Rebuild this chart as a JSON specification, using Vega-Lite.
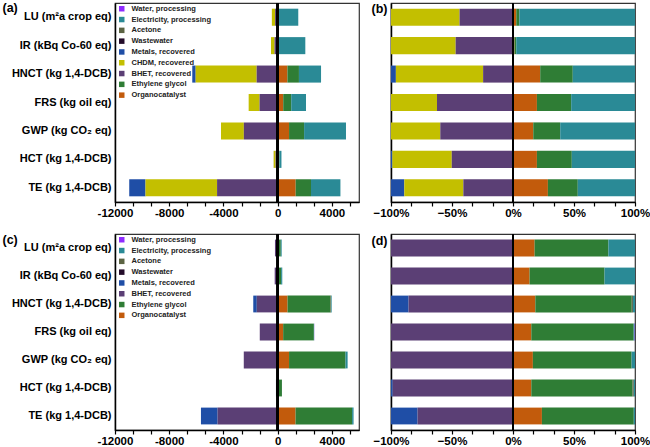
{
  "$schema": "https://vega.github.io/schema/vega-lite/v6.json",
  "padding": {"left": 1, "top": 0, "right": 0, "bottom": 2},
  "background": "white",
  "bounds": "flush",
  "columns": 2,
  "spacing": {"row": 32, "column": 32},
  "config": {
    "font": "Liberation Sans",
    "view": {"stroke": "#333", "strokeWidth": 1.2},
    "axis": {"grid": false, "labelColor": "black", "domainColor": "black", "tickColor": "black", "labelFlush": false, "labelOverlap": false},
    "legend": {
      "orient": "none", "legendX": 3, "legendY": 2, "title": null,
      "symbolType": "square", "symbolSize": 30, "symbolStrokeWidth": 0,
      "labelFontSize": 7.5, "labelFontWeight": "bold", "labelColor": "#222",
      "rowPadding": 1.8, "labelOffset": 6, "padding": 0
    }
  },
  "datasets": {
    "a": [
      {"category": "LU (m²a crop eq)", "source": "CHDM, recovered", "value": -240},
      {"category": "LU (m²a crop eq)", "source": "BHET, recovered", "value": -190},
      {"category": "LU (m²a crop eq)", "source": "Organocatalyst", "value": 40},
      {"category": "LU (m²a crop eq)", "source": "Ethylene glycol", "value": 40},
      {"category": "LU (m²a crop eq)", "source": "Electricity, processing", "value": 1440},
      {"category": "IR (kBq Co-60 eq)", "source": "CHDM, recovered", "value": -260},
      {"category": "IR (kBq Co-60 eq)", "source": "BHET, recovered", "value": -230},
      {"category": "IR (kBq Co-60 eq)", "source": "Organocatalyst", "value": 20},
      {"category": "IR (kBq Co-60 eq)", "source": "Ethylene glycol", "value": 30},
      {"category": "IR (kBq Co-60 eq)", "source": "Electricity, processing", "value": 1990},
      {"category": "HNCT (kg 1,4-DCB)", "source": "Metals, recovered", "value": -250},
      {"category": "HNCT (kg 1,4-DCB)", "source": "CHDM, recovered", "value": -4500},
      {"category": "HNCT (kg 1,4-DCB)", "source": "BHET, recovered", "value": -1550},
      {"category": "HNCT (kg 1,4-DCB)", "source": "Organocatalyst", "value": 720},
      {"category": "HNCT (kg 1,4-DCB)", "source": "Ethylene glycol", "value": 850},
      {"category": "HNCT (kg 1,4-DCB)", "source": "Electricity, processing", "value": 1630},
      {"category": "FRS (kg oil eq)", "source": "CHDM, recovered", "value": -805},
      {"category": "FRS (kg oil eq)", "source": "BHET, recovered", "value": -1335},
      {"category": "FRS (kg oil eq)", "source": "Organocatalyst", "value": 410},
      {"category": "FRS (kg oil eq)", "source": "Ethylene glycol", "value": 590},
      {"category": "FRS (kg oil eq)", "source": "Electricity, processing", "value": 1090},
      {"category": "GWP (kg CO₂ eq)", "source": "CHDM, recovered", "value": -1685},
      {"category": "GWP (kg CO₂ eq)", "source": "BHET, recovered", "value": -2495},
      {"category": "GWP (kg CO₂ eq)", "source": "Organocatalyst", "value": 840},
      {"category": "GWP (kg CO₂ eq)", "source": "Ethylene glycol", "value": 1110},
      {"category": "GWP (kg CO₂ eq)", "source": "Electricity, processing", "value": 3090},
      {"category": "HCT (kg 1,4-DCB)", "source": "Metals, recovered", "value": -5},
      {"category": "HCT (kg 1,4-DCB)", "source": "CHDM, recovered", "value": -145},
      {"category": "HCT (kg 1,4-DCB)", "source": "BHET, recovered", "value": -150},
      {"category": "HCT (kg 1,4-DCB)", "source": "Organocatalyst", "value": 53},
      {"category": "HCT (kg 1,4-DCB)", "source": "Ethylene glycol", "value": 81},
      {"category": "HCT (kg 1,4-DCB)", "source": "Electricity, processing", "value": 146},
      {"category": "TE (kg 1,4-DCB)", "source": "Metals, recovered", "value": -1200},
      {"category": "TE (kg 1,4-DCB)", "source": "CHDM, recovered", "value": -5280},
      {"category": "TE (kg 1,4-DCB)", "source": "BHET, recovered", "value": -4470},
      {"category": "TE (kg 1,4-DCB)", "source": "Organocatalyst", "value": 1330},
      {"category": "TE (kg 1,4-DCB)", "source": "Ethylene glycol", "value": 1130},
      {"category": "TE (kg 1,4-DCB)", "source": "Electricity, processing", "value": 2170}
    ],
    "b": [
      {"category": "LU (m²a crop eq)", "source": "CHDM, recovered", "value": -0.562},
      {"category": "LU (m²a crop eq)", "source": "BHET, recovered", "value": -0.438},
      {"category": "LU (m²a crop eq)", "source": "Organocatalyst", "value": 0.027},
      {"category": "LU (m²a crop eq)", "source": "Ethylene glycol", "value": 0.025},
      {"category": "LU (m²a crop eq)", "source": "Electricity, processing", "value": 0.948},
      {"category": "IR (kBq Co-60 eq)", "source": "CHDM, recovered", "value": -0.53},
      {"category": "IR (kBq Co-60 eq)", "source": "BHET, recovered", "value": -0.47},
      {"category": "IR (kBq Co-60 eq)", "source": "Organocatalyst", "value": 0.012},
      {"category": "IR (kBq Co-60 eq)", "source": "Ethylene glycol", "value": 0.015},
      {"category": "IR (kBq Co-60 eq)", "source": "Electricity, processing", "value": 0.973},
      {"category": "HNCT (kg 1,4-DCB)", "source": "Metals, recovered", "value": -0.04},
      {"category": "HNCT (kg 1,4-DCB)", "source": "CHDM, recovered", "value": -0.715},
      {"category": "HNCT (kg 1,4-DCB)", "source": "BHET, recovered", "value": -0.245},
      {"category": "HNCT (kg 1,4-DCB)", "source": "Organocatalyst", "value": 0.223},
      {"category": "HNCT (kg 1,4-DCB)", "source": "Ethylene glycol", "value": 0.267},
      {"category": "HNCT (kg 1,4-DCB)", "source": "Electricity, processing", "value": 0.51},
      {"category": "FRS (kg oil eq)", "source": "CHDM, recovered", "value": -0.377},
      {"category": "FRS (kg oil eq)", "source": "BHET, recovered", "value": -0.623},
      {"category": "FRS (kg oil eq)", "source": "Organocatalyst", "value": 0.196},
      {"category": "FRS (kg oil eq)", "source": "Ethylene glycol", "value": 0.281},
      {"category": "FRS (kg oil eq)", "source": "Electricity, processing", "value": 0.523},
      {"category": "GWP (kg CO₂ eq)", "source": "CHDM, recovered", "value": -0.404},
      {"category": "GWP (kg CO₂ eq)", "source": "BHET, recovered", "value": -0.596},
      {"category": "GWP (kg CO₂ eq)", "source": "Organocatalyst", "value": 0.166},
      {"category": "GWP (kg CO₂ eq)", "source": "Ethylene glycol", "value": 0.221},
      {"category": "GWP (kg CO₂ eq)", "source": "Electricity, processing", "value": 0.613},
      {"category": "HCT (kg 1,4-DCB)", "source": "Metals, recovered", "value": -0.011},
      {"category": "HCT (kg 1,4-DCB)", "source": "CHDM, recovered", "value": -0.487},
      {"category": "HCT (kg 1,4-DCB)", "source": "BHET, recovered", "value": -0.502},
      {"category": "HCT (kg 1,4-DCB)", "source": "Organocatalyst", "value": 0.196},
      {"category": "HCT (kg 1,4-DCB)", "source": "Ethylene glycol", "value": 0.286},
      {"category": "HCT (kg 1,4-DCB)", "source": "Electricity, processing", "value": 0.518},
      {"category": "TE (kg 1,4-DCB)", "source": "Metals, recovered", "value": -0.109},
      {"category": "TE (kg 1,4-DCB)", "source": "CHDM, recovered", "value": -0.484},
      {"category": "TE (kg 1,4-DCB)", "source": "BHET, recovered", "value": -0.407},
      {"category": "TE (kg 1,4-DCB)", "source": "Organocatalyst", "value": 0.286},
      {"category": "TE (kg 1,4-DCB)", "source": "Ethylene glycol", "value": 0.245},
      {"category": "TE (kg 1,4-DCB)", "source": "Electricity, processing", "value": 0.469}
    ],
    "c": [
      {"category": "LU (m²a crop eq)", "source": "BHET, recovered", "value": -200},
      {"category": "LU (m²a crop eq)", "source": "Organocatalyst", "value": 52},
      {"category": "LU (m²a crop eq)", "source": "Ethylene glycol", "value": 178},
      {"category": "LU (m²a crop eq)", "source": "Electricity, processing", "value": 65},
      {"category": "IR (kBq Co-60 eq)", "source": "BHET, recovered", "value": -220},
      {"category": "IR (kBq Co-60 eq)", "source": "Organocatalyst", "value": 46},
      {"category": "IR (kBq Co-60 eq)", "source": "Ethylene glycol", "value": 209},
      {"category": "IR (kBq Co-60 eq)", "source": "Electricity, processing", "value": 85},
      {"category": "HNCT (kg 1,4-DCB)", "source": "Metals, recovered", "value": -260},
      {"category": "HNCT (kg 1,4-DCB)", "source": "BHET, recovered", "value": -1540},
      {"category": "HNCT (kg 1,4-DCB)", "source": "Organocatalyst", "value": 730},
      {"category": "HNCT (kg 1,4-DCB)", "source": "Ethylene glycol", "value": 3170},
      {"category": "HNCT (kg 1,4-DCB)", "source": "Acetone", "value": 40},
      {"category": "HNCT (kg 1,4-DCB)", "source": "Electricity, processing", "value": 45},
      {"category": "FRS (kg oil eq)", "source": "BHET, recovered", "value": -1320},
      {"category": "FRS (kg oil eq)", "source": "Organocatalyst", "value": 405},
      {"category": "FRS (kg oil eq)", "source": "Ethylene glycol", "value": 2265},
      {"category": "FRS (kg oil eq)", "source": "Electricity, processing", "value": 20},
      {"category": "FRS (kg oil eq)", "source": "Water, processing", "value": 10},
      {"category": "GWP (kg CO₂ eq)", "source": "BHET, recovered", "value": -2500},
      {"category": "GWP (kg CO₂ eq)", "source": "Organocatalyst", "value": 840},
      {"category": "GWP (kg CO₂ eq)", "source": "Ethylene glycol", "value": 4165},
      {"category": "GWP (kg CO₂ eq)", "source": "Electricity, processing", "value": 155},
      {"category": "HCT (kg 1,4-DCB)", "source": "Metals, recovered", "value": -3},
      {"category": "HCT (kg 1,4-DCB)", "source": "BHET, recovered", "value": -125},
      {"category": "HCT (kg 1,4-DCB)", "source": "Organocatalyst", "value": 48},
      {"category": "HCT (kg 1,4-DCB)", "source": "Ethylene glycol", "value": 266},
      {"category": "HCT (kg 1,4-DCB)", "source": "Acetone", "value": 3},
      {"category": "HCT (kg 1,4-DCB)", "source": "Electricity, processing", "value": 3},
      {"category": "TE (kg 1,4-DCB)", "source": "Metals, recovered", "value": -1230},
      {"category": "TE (kg 1,4-DCB)", "source": "BHET, recovered", "value": -4430},
      {"category": "TE (kg 1,4-DCB)", "source": "Organocatalyst", "value": 1320},
      {"category": "TE (kg 1,4-DCB)", "source": "Ethylene glycol", "value": 4170},
      {"category": "TE (kg 1,4-DCB)", "source": "Electricity, processing", "value": 110}
    ],
    "d": [
      {"category": "LU (m²a crop eq)", "source": "BHET, recovered", "value": -1},
      {"category": "LU (m²a crop eq)", "source": "Organocatalyst", "value": 0.177},
      {"category": "LU (m²a crop eq)", "source": "Ethylene glycol", "value": 0.605},
      {"category": "LU (m²a crop eq)", "source": "Electricity, processing", "value": 0.218},
      {"category": "IR (kBq Co-60 eq)", "source": "BHET, recovered", "value": -1},
      {"category": "IR (kBq Co-60 eq)", "source": "Organocatalyst", "value": 0.136},
      {"category": "IR (kBq Co-60 eq)", "source": "Ethylene glycol", "value": 0.614},
      {"category": "IR (kBq Co-60 eq)", "source": "Electricity, processing", "value": 0.25},
      {"category": "HNCT (kg 1,4-DCB)", "source": "Metals, recovered", "value": -0.144},
      {"category": "HNCT (kg 1,4-DCB)", "source": "BHET, recovered", "value": -0.856},
      {"category": "HNCT (kg 1,4-DCB)", "source": "Organocatalyst", "value": 0.183},
      {"category": "HNCT (kg 1,4-DCB)", "source": "Ethylene glycol", "value": 0.79},
      {"category": "HNCT (kg 1,4-DCB)", "source": "Acetone", "value": 0.01},
      {"category": "HNCT (kg 1,4-DCB)", "source": "Electricity, processing", "value": 0.017},
      {"category": "FRS (kg oil eq)", "source": "BHET, recovered", "value": -1},
      {"category": "FRS (kg oil eq)", "source": "Organocatalyst", "value": 0.15},
      {"category": "FRS (kg oil eq)", "source": "Ethylene glycol", "value": 0.839},
      {"category": "FRS (kg oil eq)", "source": "Electricity, processing", "value": 0.008},
      {"category": "FRS (kg oil eq)", "source": "Water, processing", "value": 0.003},
      {"category": "GWP (kg CO₂ eq)", "source": "BHET, recovered", "value": -1},
      {"category": "GWP (kg CO₂ eq)", "source": "Organocatalyst", "value": 0.163},
      {"category": "GWP (kg CO₂ eq)", "source": "Ethylene glycol", "value": 0.809},
      {"category": "GWP (kg CO₂ eq)", "source": "Electricity, processing", "value": 0.028},
      {"category": "HCT (kg 1,4-DCB)", "source": "Metals, recovered", "value": -0.014},
      {"category": "HCT (kg 1,4-DCB)", "source": "BHET, recovered", "value": -0.986},
      {"category": "HCT (kg 1,4-DCB)", "source": "Organocatalyst", "value": 0.15},
      {"category": "HCT (kg 1,4-DCB)", "source": "Ethylene glycol", "value": 0.83},
      {"category": "HCT (kg 1,4-DCB)", "source": "Acetone", "value": 0.01},
      {"category": "HCT (kg 1,4-DCB)", "source": "Electricity, processing", "value": 0.01},
      {"category": "TE (kg 1,4-DCB)", "source": "Metals, recovered", "value": -0.218},
      {"category": "TE (kg 1,4-DCB)", "source": "BHET, recovered", "value": -0.782},
      {"category": "TE (kg 1,4-DCB)", "source": "Organocatalyst", "value": 0.237},
      {"category": "TE (kg 1,4-DCB)", "source": "Ethylene glycol", "value": 0.753},
      {"category": "TE (kg 1,4-DCB)", "source": "Electricity, processing", "value": 0.01}
    ],
    "stackorder": [
      {"source": "Organocatalyst", "k": 1},
      {"source": "Ethylene glycol", "k": 2},
      {"source": "BHET, recovered", "k": 3},
      {"source": "CHDM, recovered", "k": 4},
      {"source": "Metals, recovered", "k": 5},
      {"source": "Wastewater", "k": 6},
      {"source": "Acetone", "k": 7},
      {"source": "Electricity, processing", "k": 8},
      {"source": "Water, processing", "k": 9}
    ]
  },
  "resolve": {"scale": {"color": "independent", "x": "independent", "y": "independent"}},
  "concat": [
    {
      "width": 244, "height": 199,
      "data": {"name": "a"},
      "transform": [{"lookup": "source", "from": {"data": {"name": "stackorder"}, "key": "source", "fields": ["k"]}}],
      "resolve": {"axis": {"x": "independent"}},
      "layer": [
        {
          "mark": {"type": "bar"},
          "encoding": {
            "y": {"field": "category", "type": "nominal",
              "sort": ["LU (m²a crop eq)", "IR (kBq Co-60 eq)", "HNCT (kg 1,4-DCB)", "FRS (kg oil eq)", "GWP (kg CO₂ eq)", "HCT (kg 1,4-DCB)", "TE (kg 1,4-DCB)"],
              "scale": {"paddingInner": 0.4, "paddingOuter": 0.2},
              "axis": {"title": "(a)", "titleAngle": 0, "titleAlign": "left", "titleBaseline": "top", "titleX": -113, "titleY": -2, "titleFontSize": 12.5, "titleFontWeight": "bold", "titleColor": "black",
                "ticks": false, "labelFontSize": 11, "labelFontWeight": "bold", "labelPadding": 4, "domainWidth": 1.5}},
            "x": {"field": "value", "type": "quantitative", "stack": "zero",
              "scale": {"domain": [-12000, 6000], "nice": false},
              "axis": {"title": null, "orient": "bottom", "values": [-12000, -8000, -4000, 0, 4000], "format": "d",
                "labelExpr": "replace(datum.label, '−', '-')",
                "tickSize": 4, "tickWidth": 1.2, "domainWidth": 1.5, "labelFontSize": 11.5, "labelFontWeight": "bold", "labelPadding": 1}},
            "color": {"field": "source", "type": "nominal",
              "scale": {"domain": ["Water, processing", "Electricity, processing", "Acetone", "Wastewater", "Metals, recovered", "CHDM, recovered", "BHET, recovered", "Ethylene glycol", "Organocatalyst"],
                "range": ["#8f2cff", "#2a8a96", "#5c6443", "#240c2a", "#1f4ea6", "#c3bf00", "#5b3f75", "#2f7d35", "#c25b0c"]},
              "legend": {"orient": "none", "legendX": 3, "legendY": 2}},
            "order": {"field": "k", "type": "quantitative"}
          }
        },
        {"mark": {"type": "rule", "color": "black", "strokeWidth": 1.5},
          "encoding": {"x": {"datum": 0, "type": "quantitative",
            "axis": {"title": null, "orient": "bottom", "values": [-10666.667, -9333.333, -6666.667, -5333.333, -2666.667, -1333.333, 1333.333, 2666.667, 5333.333], "labels": false, "domain": false, "tickSize": 4, "tickWidth": 1.2}}}}
      ]
    },
    {
      "width": 244, "height": 199,
      "data": {"name": "b"},
      "transform": [{"lookup": "source", "from": {"data": {"name": "stackorder"}, "key": "source", "fields": ["k"]}}],
      "resolve": {"axis": {"x": "independent"}},
      "layer": [
        {
          "mark": {"type": "bar"},
          "encoding": {
            "y": {"field": "category", "type": "nominal",
              "sort": ["LU (m²a crop eq)", "IR (kBq Co-60 eq)", "HNCT (kg 1,4-DCB)", "FRS (kg oil eq)", "GWP (kg CO₂ eq)", "HCT (kg 1,4-DCB)", "TE (kg 1,4-DCB)"],
              "scale": {"paddingInner": 0.4, "paddingOuter": 0.2},
              "axis": {"title": "(b)", "titleAngle": 0, "titleAlign": "right", "titleBaseline": "top", "titleX": -4, "titleY": -1, "titleFontSize": 12.5, "titleFontWeight": "bold", "titleColor": "black",
                "ticks": false, "labels": false, "domainWidth": 1.5}},
            "x": {"field": "value", "type": "quantitative", "stack": "zero",
              "scale": {"domain": [-1, 1], "nice": false},
              "axis": {"title": null, "orient": "bottom", "values": [-1, -0.5, 0, 0.5, 1], "format": ".0%",
                "tickSize": 4, "tickWidth": 1.2, "domainWidth": 1.5, "labelFontSize": 11.5, "labelFontWeight": "bold", "labelPadding": 1}},
            "color": {"field": "source", "type": "nominal",
              "scale": {"domain": ["Water, processing", "Electricity, processing", "Acetone", "Wastewater", "Metals, recovered", "CHDM, recovered", "BHET, recovered", "Ethylene glycol", "Organocatalyst"],
                "range": ["#8f2cff", "#2a8a96", "#5c6443", "#240c2a", "#1f4ea6", "#c3bf00", "#5b3f75", "#2f7d35", "#c25b0c"]},
              "legend": null},
            "order": {"field": "k", "type": "quantitative"}
          }
        },
        {"mark": {"type": "rule", "color": "black", "strokeWidth": 1.5},
          "encoding": {"x": {"datum": 0, "type": "quantitative",
            "axis": {"title": null, "orient": "bottom", "values": [-0.8333, -0.6667, -0.3333, -0.1667, 0.1667, 0.3333, 0.6667, 0.8333], "labels": false, "domain": false, "tickSize": 4, "tickWidth": 1.2}}}}
      ]
    },
    {
      "width": 244, "height": 196,
      "data": {"name": "c"},
      "transform": [{"lookup": "source", "from": {"data": {"name": "stackorder"}, "key": "source", "fields": ["k"]}}],
      "resolve": {"axis": {"x": "independent"}},
      "layer": [
        {
          "mark": {"type": "bar"},
          "encoding": {
            "y": {"field": "category", "type": "nominal",
              "sort": ["LU (m²a crop eq)", "IR (kBq Co-60 eq)", "HNCT (kg 1,4-DCB)", "FRS (kg oil eq)", "GWP (kg CO₂ eq)", "HCT (kg 1,4-DCB)", "TE (kg 1,4-DCB)"],
              "scale": {"paddingInner": 0.4, "paddingOuter": 0.2},
              "axis": {"title": "(c)", "titleAngle": 0, "titleAlign": "left", "titleBaseline": "top", "titleX": -113, "titleY": -1, "titleFontSize": 12.5, "titleFontWeight": "bold", "titleColor": "black",
                "ticks": false, "labelFontSize": 11, "labelFontWeight": "bold", "labelPadding": 4, "domainWidth": 1.5}},
            "x": {"field": "value", "type": "quantitative", "stack": "zero",
              "scale": {"domain": [-12000, 6000], "nice": false},
              "axis": {"title": null, "orient": "bottom", "values": [-12000, -8000, -4000, 0, 4000], "format": "d",
                "labelExpr": "replace(datum.label, '−', '-')",
                "tickSize": 4, "tickWidth": 1.2, "domainWidth": 1.5, "labelFontSize": 11.5, "labelFontWeight": "bold", "labelPadding": 1}},
            "color": {"field": "source", "type": "nominal",
              "scale": {"domain": ["Water, processing", "Electricity, processing", "Acetone", "Wastewater", "Metals, recovered", "BHET, recovered", "Ethylene glycol", "Organocatalyst"],
                "range": ["#8f2cff", "#2a8a96", "#5c6443", "#240c2a", "#1f4ea6", "#5b3f75", "#2f7d35", "#c25b0c"]},
              "legend": {"orient": "none", "legendX": 3, "legendY": 2}},
            "order": {"field": "k", "type": "quantitative"}
          }
        },
        {"mark": {"type": "rule", "color": "black", "strokeWidth": 1.5},
          "encoding": {"x": {"datum": 0, "type": "quantitative",
            "axis": {"title": null, "orient": "bottom", "values": [-10666.667, -9333.333, -6666.667, -5333.333, -2666.667, -1333.333, 1333.333, 2666.667, 5333.333], "labels": false, "domain": false, "tickSize": 4, "tickWidth": 1.2}}}}
      ]
    },
    {
      "width": 244, "height": 196,
      "data": {"name": "d"},
      "transform": [{"lookup": "source", "from": {"data": {"name": "stackorder"}, "key": "source", "fields": ["k"]}}],
      "resolve": {"axis": {"x": "independent"}},
      "layer": [
        {
          "mark": {"type": "bar"},
          "encoding": {
            "y": {"field": "category", "type": "nominal",
              "sort": ["LU (m²a crop eq)", "IR (kBq Co-60 eq)", "HNCT (kg 1,4-DCB)", "FRS (kg oil eq)", "GWP (kg CO₂ eq)", "HCT (kg 1,4-DCB)", "TE (kg 1,4-DCB)"],
              "scale": {"paddingInner": 0.4, "paddingOuter": 0.2},
              "axis": {"title": "(d)", "titleAngle": 0, "titleAlign": "right", "titleBaseline": "top", "titleX": -4, "titleY": 0, "titleFontSize": 12.5, "titleFontWeight": "bold", "titleColor": "black",
                "ticks": false, "labels": false, "domainWidth": 1.5}},
            "x": {"field": "value", "type": "quantitative", "stack": "zero",
              "scale": {"domain": [-1, 1], "nice": false},
              "axis": {"title": null, "orient": "bottom", "values": [-1, -0.5, 0, 0.5, 1], "format": ".0%",
                "tickSize": 4, "tickWidth": 1.2, "domainWidth": 1.5, "labelFontSize": 11.5, "labelFontWeight": "bold", "labelPadding": 1}},
            "color": {"field": "source", "type": "nominal",
              "scale": {"domain": ["Water, processing", "Electricity, processing", "Acetone", "Wastewater", "Metals, recovered", "BHET, recovered", "Ethylene glycol", "Organocatalyst"],
                "range": ["#8f2cff", "#2a8a96", "#5c6443", "#240c2a", "#1f4ea6", "#5b3f75", "#2f7d35", "#c25b0c"]},
              "legend": null},
            "order": {"field": "k", "type": "quantitative"}
          }
        },
        {"mark": {"type": "rule", "color": "black", "strokeWidth": 1.5},
          "encoding": {"x": {"datum": 0, "type": "quantitative",
            "axis": {"title": null, "orient": "bottom", "values": [-0.8333, -0.6667, -0.3333, -0.1667, 0.1667, 0.3333, 0.6667, 0.8333], "labels": false, "domain": false, "tickSize": 4, "tickWidth": 1.2}}}}
      ]
    }
  ]
}
